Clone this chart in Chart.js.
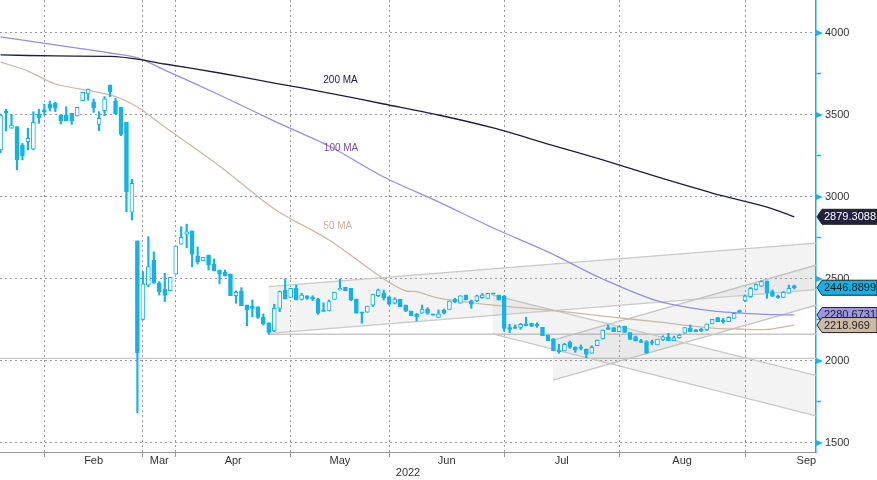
<!DOCTYPE html>
<html>
<head>
<meta charset="utf-8">
<script src="https://cdn.jsdelivr.net/npm/chart.js@4.4.1/dist/chart.umd.min.js"></script>
<style>
html, body { margin: 0; padding: 0; background: #fff; }
</style>
</head>
<body>
<canvas id="chart" width="877" height="480"></canvas>
<script>
// daily sessions, late Jan to early Sep 2022 (x = session number)
var open = [3287, 3520, 3419, 3429, 3317, 3337, 3291, 3504, 3530, 3565,
            3571, 3500, 3500, 3510, 3494, 3587, 3628, 3581, 3443, 3526,
            3683, 3585, 3547, 3455, 2907, 2732, 2254, 2463, 2616, 2474,
            2439, 2429, 2529, 2712, 2773, 2793, 2640, 2612, 2646, 2591,
            2555, 2541, 2530, 2398, 2427, 2341, 2333, 2331, 2266, 2233,
            2183, 2321, 2433, 2388, 2443, 2376, 2398, 2388, 2378, 2307,
            2305, 2376, 2433, 2449, 2443, 2378, 2297, 2297, 2341, 2398,
            2413, 2392, 2352, 2376, 2341, 2305, 2285, 2291, 2317, 2285,
            2266, 2311, 2315, 2376, 2352, 2402, 2366, 2366, 2386, 2382,
            2413, 2402, 2398, 2203, 2209, 2205, 2226, 2230, 2224, 2205,
            2158, 2134, 2067, 2061, 2114, 2083, 2083, 2073, 2047, 2093,
            2134, 2203, 2203, 2179, 2213, 2173, 2148, 2124, 2118, 2112,
            2098, 2128, 2148, 2124, 2142, 2169, 2199, 2189, 2195, 2189,
            2226, 2264, 2250, 2240, 2260, 2307, 2368, 2392, 2437, 2457,
            2488, 2423, 2398, 2388, 2413, 2459];
var high = [3505, 3535, 3504, 3429, 3327, 3419, 3520, 3535, 3565, 3585,
            3577, 3500, 3551, 3510, 3547, 3638, 3659, 3598, 3520, 3612,
            3683, 3602, 3547, 3455, 3108, 2732, 2545, 2758, 2666, 2484,
            2535, 2510, 2701, 2819, 2834, 2793, 2695, 2632, 2646, 2622,
            2555, 2555, 2530, 2427, 2447, 2341, 2372, 2331, 2287, 2233,
            2346, 2427, 2500, 2443, 2463, 2413, 2398, 2398, 2382, 2355,
            2372, 2419, 2500, 2449, 2443, 2378, 2297, 2335, 2408, 2439,
            2433, 2392, 2386, 2376, 2341, 2305, 2291, 2341, 2325, 2285,
            2311, 2317, 2366, 2382, 2398, 2402, 2372, 2402, 2413, 2413,
            2413, 2402, 2398, 2224, 2220, 2230, 2266, 2230, 2233, 2205,
            2158, 2138, 2102, 2108, 2122, 2087, 2098, 2073, 2093, 2128,
            2189, 2220, 2203, 2213, 2213, 2173, 2152, 2132, 2124, 2128,
            2134, 2154, 2169, 2152, 2163, 2203, 2220, 2193, 2199, 2226,
            2254, 2266, 2260, 2270, 2294, 2311, 2402, 2449, 2470, 2490,
            2488, 2433, 2402, 2423, 2463, 2463];
var low  = [3268, 3402, 3419, 3165, 3226, 3287, 3287, 3449, 3500, 3524,
            3520, 3445, 3465, 3443, 3494, 3587, 3591, 3516, 3404, 3496,
            3612, 3506, 3374, 2910, 2860, 1683, 2250, 2453, 2474, 2402,
            2362, 2429, 2529, 2712, 2691, 2575, 2591, 2612, 2555, 2551,
            2470, 2518, 2398, 2352, 2337, 2215, 2270, 2260, 2219, 2163,
            2179, 2301, 2378, 2388, 2372, 2372, 2376, 2368, 2285, 2303,
            2305, 2376, 2433, 2429, 2368, 2291, 2230, 2297, 2331, 2392,
            2372, 2341, 2348, 2331, 2301, 2276, 2244, 2291, 2285, 2279,
            2266, 2287, 2315, 2355, 2352, 2372, 2321, 2362, 2382, 2382,
            2407, 2372, 2183, 2173, 2199, 2193, 2215, 2209, 2205, 2154,
            2124, 2063, 2047, 2061, 2077, 2053, 2067, 2020, 2047, 2093,
            2134, 2193, 2179, 2179, 2175, 2132, 2122, 2114, 2047, 2098,
            2098, 2124, 2124, 2124, 2138, 2169, 2179, 2179, 2179, 2185,
            2226, 2240, 2230, 2240, 2260, 2297, 2362, 2388, 2433, 2453,
            2382, 2392, 2382, 2388, 2413, 2439];
var close = [3500, 3514, 3439, 3226, 3252, 3358, 3455, 3484, 3520, 3541,
             3541, 3465, 3465, 3465, 3547, 3638, 3658, 3544, 3480, 3598,
             3642, 3506, 3382, 3032, 3084, 2051, 2470, 2575, 2474, 2423,
             2402, 2510, 2701, 2754, 2788, 2652, 2605, 2632, 2585, 2551,
             2530, 2518, 2398, 2419, 2337, 2311, 2321, 2266, 2226, 2175,
             2321, 2423, 2378, 2443, 2372, 2402, 2382, 2378, 2291, 2303,
             2362, 2419, 2443, 2429, 2372, 2291, 2291, 2335, 2408, 2433,
             2386, 2346, 2378, 2331, 2305, 2276, 2270, 2317, 2291, 2279,
             2287, 2291, 2366, 2362, 2398, 2372, 2346, 2398, 2402, 2413,
             2407, 2372, 2199, 2193, 2199, 2224, 2215, 2213, 2215, 2154,
             2124, 2063, 2057, 2102, 2083, 2067, 2077, 2041, 2083, 2128,
             2189, 2193, 2179, 2209, 2175, 2132, 2122, 2114, 2047, 2108,
             2134, 2148, 2124, 2142, 2158, 2203, 2179, 2179, 2185, 2226,
             2254, 2240, 2240, 2266, 2291, 2297, 2396, 2443, 2468, 2484,
             2416, 2396, 2386, 2419, 2443, 2446.8899];

// moving averages, read every few sessions
var ma200Days = [0, 10, 20, 25, 30, 40, 50, 60, 70, 80, 90, 100, 110, 120, 130, 140, 145];
var ma200 = [3866, 3860, 3857, 3841, 3811, 3756, 3695, 3634, 3567, 3500, 3421, 3323, 3226, 3122, 3024, 2939, 2879.3088];
var ma100Days = [0, 10, 20, 25, 30, 40, 50, 60, 70, 80, 90, 100, 110, 120, 130, 140, 145];
var ma100 = [3976, 3927, 3878, 3848, 3774, 3622, 3463, 3311, 3122, 2970, 2811, 2665, 2500, 2366, 2305, 2284, 2280.6731];
var ma50Days = [0, 5, 10, 20, 25, 30, 40, 50, 60, 70, 74, 76, 80, 90, 100, 110, 120, 130, 135, 140, 145];
var ma50 = [3823, 3768, 3689, 3622, 3549, 3427, 3189, 2927, 2738, 2500, 2427, 2423, 2384, 2341, 2311, 2274, 2238, 2201, 2195, 2192, 2218.969];

// trend channels (start session, end session) and levels
var riseX = [49, 148.96], riseTop = [2453, 2719], riseBottom = [2169, 2435];
var fallX = [89.9, 148.96], fallTop = [2402, 1912], fallBottom = [2165, 1665];
var julyX = [100.9, 148.96], julyTop = [2128, 2584], julyBottom = [1884, 2340];
var aprilLowX = [49, 148.96], aprilLow = [2163, 2163];
var crashX = [-0.1, 148.96], crashLevel = [2016.5, 2016.5];

// axes
var monthEnds = [8, 26, 32, 53, 71, 92, 113, 136];
var months = ['Feb', 'Mar', 'Apr', 'May', 'Jun', 'Jul', 'Aug', 'Sep'];
var monthMid = [17, 29, 42.5, 62, 81.5, 102.5, 124.5, 147.2];
var yTicks = [1500, 1750, 2000, 2250, 2500, 2750, 3000, 3250, 3500, 3750, 4000];
var captions = [
    {text: '200 MA', x: 62.1, y: 3713, color: '#23233f'},
    {text: '100 MA', x: 62.2, y: 3299, color: '#7e4f9f'},
    {text: '50 MA', x: 61.6, y: 2823, color: '#c7b29d'}
];

var blue = '#12b3e8';
var grey = '#9a9a9a';
var font = 'Liberation Sans';
Chart.defaults.font.family = font;

function pts(xs, ys) {
    return xs.map(function (x, i) { return {x: x, y: ys[i]}; });
}
function guide(xs, ys, fill) {
    return {
        type: 'line', data: pts(xs, ys), borderColor: '#c8c8c8', borderWidth: 1.3,
        pointRadius: 0, tension: 0, fill: fill ? '-1' : false,
        backgroundColor: 'rgba(150,150,150,0.11)', order: 10
    };
}
function ma(xs, ys, color) {
    return {type: 'line', data: pts(xs, ys), borderColor: color, borderWidth: 1.3,
            pointRadius: 0, tension: 0.3, fill: false, order: 5};
}

var sessions = close.map(function (c, i) { return i; });

var overlay = {
    id: 'overlay',
    afterDraw: function (chart) {
        var ctx = chart.ctx, x = chart.scales.x, y = chart.scales.y, area = chart.chartArea;
        ctx.save();
        ctx.fillStyle = blue;
        yTicks.forEach(function (v) {
            if (v % 500) return;
            var py = y.getPixelForValue(v);
            ctx.beginPath();
            ctx.moveTo(area.right, py - 3);
            ctx.lineTo(area.right + 7, py);
            ctx.lineTo(area.right, py + 3);
            ctx.fill();
        });
        ctx.font = '10px "' + font + '"';
        ctx.textAlign = 'center';
        ctx.textBaseline = 'middle';
        captions.forEach(function (c) {
            ctx.fillStyle = c.color;
            ctx.fillText(c.text, x.getPixelForValue(c.x), y.getPixelForValue(c.y));
        });
        var tags = [
            {v: ma200[ma200.length - 1], bg: '#22223f', fg: '#ffffff'},
            {v: close[close.length - 1], bg: '#0db4ea', fg: '#111111'},
            {v: ma100[ma100.length - 1], bg: '#9d96e6', fg: '#222222'},
            {v: ma50[ma50.length - 1], bg: '#cdbaa6', fg: '#222222'}
        ];
        ctx.font = '11px "' + font + '"';
        ctx.textAlign = 'left';
        tags.forEach(function (t) {
            var cy = y.getPixelForValue(t.v), h = 7.5, l = area.right + 1;
            ctx.beginPath();
            ctx.moveTo(l, cy);
            ctx.lineTo(l + 5, cy - h);
            ctx.lineTo(chart.width, cy - h);
            ctx.lineTo(chart.width, cy + h);
            ctx.lineTo(l + 5, cy + h);
            ctx.closePath();
            ctx.fillStyle = t.bg;
            ctx.fill();
            ctx.strokeStyle = '#222';
            ctx.lineWidth = 1;
            ctx.stroke();
            ctx.fillStyle = t.fg;
            ctx.fillText(String(t.v), l + 7, cy + 0.5);
        });
        ctx.restore();
    }
};

new Chart(document.getElementById('chart').getContext('2d'), {
    type: 'bar',
    data: {
        datasets: [
            guide(riseX, riseTop, false),
            guide(riseX, riseBottom, true),
            guide(fallX, fallTop, false),
            guide(fallX, fallBottom, true),
            guide(julyX, julyTop, false),
            guide(julyX, julyBottom, true),
            guide(aprilLowX, aprilLow, false),
            guide(crashX, crashLevel, false),
            ma(ma200Days, ma200, '#1e1e3c'),
            ma(ma100Days, ma100, '#958ee2'),
            ma(ma50Days, ma50, '#cbb9a6'),
            {
                label: 'range',
                data: sessions.map(function (i) { return {x: i, y: [low[i], high[i]]}; }),
                backgroundColor: blue, barThickness: 1.5, grouped: false,
                minBarLength: 1, order: 2
            },
            {
                label: 'body',
                data: sessions.map(function (i) { return {x: i, y: [open[i], close[i]]}; }),
                backgroundColor: sessions.map(function (i) { return close[i] >= open[i] ? '#ffffff' : blue; }),
                borderColor: blue, borderWidth: 1, borderSkipped: false,
                barThickness: 4, grouped: false, minBarLength: 1.5, order: 1
            }
        ]
    },
    options: {
        responsive: false,
        animation: false,
        devicePixelRatio: 1,
        layout: {padding: 0},
        plugins: {legend: {display: false}, tooltip: {enabled: false}},
        scales: {
            x: {
                type: 'linear', position: 'bottom', min: -0.1, max: 148.96, offset: false, weight: 0,
                afterBuildTicks: function (s) { s.ticks = monthEnds.map(function (v) { return {value: v}; }); },
                ticks: {display: false},
                grid: {color: grey, tickLength: 5, tickColor: grey, tickBorderDash: [], offset: false},
                border: {color: grey, dash: [2, 3]},
                afterFit: function (s) { s.height = 2; s.paddingLeft = 0; s.paddingRight = 0; }
            },
            xm: {
                type: 'linear', position: 'bottom', min: -0.1, max: 148.96, offset: false, weight: 1,
                afterBuildTicks: function (s) { s.ticks = monthMid.map(function (v) { return {value: v}; }); },
                ticks: {
                    autoSkip: false, maxRotation: 0, padding: 1, color: '#333',
                    font: {size: 11, lineHeight: 1},
                    callback: function (v, i) { return months[i]; }
                },
                grid: {display: false, drawTicks: false},
                border: {display: false},
                title: {display: true, text: '2022', color: '#333', font: {size: 11, lineHeight: 1},
                        padding: {top: 0, bottom: 2}},
                afterFit: function (s) { s.height = 26; s.paddingLeft = 0; s.paddingRight = 0; }
            },
            y: {
                type: 'linear', position: 'right', min: 1445.1, max: 4201.2, beginAtZero: false,
                afterBuildTicks: function (s) { s.ticks = yTicks.map(function (v) { return {value: v}; }); },
                ticks: {
                    autoSkip: false, padding: 4, color: '#333', font: {size: 11},
                    callback: function (v) { return v % 500 === 0 ? String(v) : ''; }
                },
                grid: {
                    color: function (c) { return c.tick && c.tick.value % 500 === 0 ? grey : 'rgba(0,0,0,0)'; },
                    tickColor: function (c) { return c.tick && c.tick.value % 500 === 0 ? 'rgba(0,0,0,0)' : blue; },
                    tickLength: 5, tickWidth: 1.5, tickBorderDash: []
                },
                border: {color: blue, width: 1.5, dash: [2, 3]},
                afterFit: function (s) { s.width = 61; s.paddingTop = 0; s.paddingBottom = 0; }
            }
        }
    },
    plugins: [overlay]
});
</script>
</body>
</html>
